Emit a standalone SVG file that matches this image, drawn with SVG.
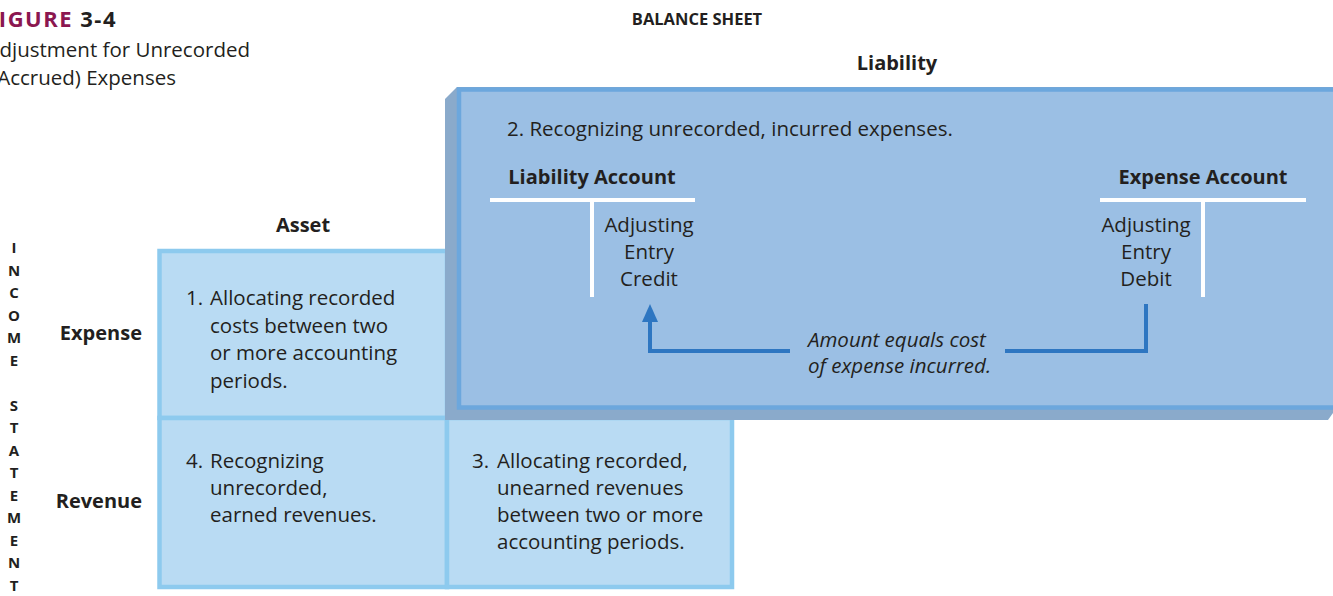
<svg xmlns="http://www.w3.org/2000/svg" width="1333" height="596" viewBox="0 0 1333 596">
<defs>
<style>
text{font-family:"Open Sans","Noto Sans","Liberation Sans",sans-serif;fill:#231f20;}
.b{font-weight:700;}
.t{font-size:20.5px;}
.h{font-size:20px;font-weight:700;}
.it{font-style:italic;font-size:20.5px;}
.v{font-size:15px;font-weight:700;text-anchor:middle;}
.cell{fill:#b9dbf3;stroke:#8dcaee;stroke-width:4.5;}
.tline{stroke:#ffffff;stroke-width:4;fill:none;}
.conn{stroke:#2e76c1;stroke-width:4;fill:none;}
</style>
<marker id="ah" markerUnits="userSpaceOnUse" markerWidth="18" markerHeight="16" viewBox="0 0 18 16" refX="0" refY="8" orient="auto">
<path d="M0,0 L18,8 L0,16 z" fill="#2e76c1"/>
</marker>
</defs>
<rect width="1333" height="596" fill="#ffffff"/>

<g id="figure-title">
<text x="117" y="27" text-anchor="end" class="b" font-size="22" letter-spacing="1.5"><tspan fill="#8b1750">FIGURE</tspan> 3-4</text>
<text x="250" y="57" text-anchor="end" class="t">Adjustment for Unrecorded</text>
<text x="176" y="85" text-anchor="end" class="t">(Accrued) Expenses</text>
</g>

<g id="balance-sheet-label">
<text x="697" y="25" text-anchor="middle" class="b" font-size="16.5">BALANCE SHEET</text>
</g>

<g id="income-statement-label">
<text class="v" x="14" y="253">I</text>
<text class="v" x="14" y="275.5">N</text>
<text class="v" x="14" y="298">C</text>
<text class="v" x="14" y="320.5">O</text>
<text class="v" x="14" y="343">M</text>
<text class="v" x="14" y="365.5">E</text>
<text class="v" x="14" y="410.5">S</text>
<text class="v" x="14" y="433">T</text>
<text class="v" x="14" y="455.5">A</text>
<text class="v" x="14" y="478">T</text>
<text class="v" x="14" y="500.5">E</text>
<text class="v" x="14" y="523">M</text>
<text class="v" x="14" y="545.5">E</text>
<text class="v" x="14" y="568">N</text>
<text class="v" x="14" y="590.5">T</text>
</g>

<g id="row-col-labels">
<text x="303" y="232" text-anchor="middle" class="h">Asset</text>
<text x="142" y="340" text-anchor="end" class="h">Expense</text>
<text x="142" y="508" text-anchor="end" class="h">Revenue</text>
<text x="897" y="70" text-anchor="middle" class="h">Liability</text>
</g>

<g id="cell-1">
<rect class="cell" x="159.5" y="251" width="287.5" height="167"/>
<text class="t" x="186" y="305">1.</text>
<text class="t" x="210" y="305">Allocating recorded</text>
<text class="t" x="210" y="332.5">costs between two</text>
<text class="t" x="210" y="360">or more accounting</text>
<text class="t" x="210" y="387.5">periods.</text>
</g>

<g id="cell-4">
<rect class="cell" x="159.5" y="418" width="287.5" height="169"/>
<text class="t" x="186" y="468">4.</text>
<text class="t" x="210" y="468">Recognizing</text>
<text class="t" x="210" y="495">unrecorded,</text>
<text class="t" x="210" y="522">earned revenues.</text>
</g>

<g id="cell-3">
<rect class="cell" x="447" y="418" width="285" height="169"/>
<text class="t" x="472" y="468">3.</text>
<text class="t" x="497" y="468">Allocating recorded,</text>
<text class="t" x="497" y="495">unearned revenues</text>
<text class="t" x="497" y="522">between two or more</text>
<text class="t" x="497" y="548.5">accounting periods.</text>
</g>

<g id="liability-box">
<polygon points="445,99 457,87 1333,87 1333,413 1328,420 445,420" fill="#8aaacb"/>
<rect x="459" y="89.5" width="900" height="318" fill="#9bbfe4" stroke="#6ca7dd" stroke-width="4.5"/>
<text class="t" x="507" y="136" font-size="20">2. Recognizing unrecorded, incurred expenses.</text>
</g>

<g id="liability-account">
<text class="h" x="592" y="184" text-anchor="middle">Liability Account</text>
<path class="tline" d="M490,200 H695 M592,200 V297"/>
<text class="t" x="649" y="232" text-anchor="middle">Adjusting</text>
<text class="t" x="649" y="259" text-anchor="middle">Entry</text>
<text class="t" x="649" y="286" text-anchor="middle">Credit</text>
</g>

<g id="expense-account">
<text class="h" x="1203" y="184" text-anchor="middle">Expense Account</text>
<path class="tline" d="M1100,200 H1306 M1203,200 V297"/>
<text class="t" x="1146" y="232" text-anchor="middle">Adjusting</text>
<text class="t" x="1146" y="259" text-anchor="middle">Entry</text>
<text class="t" x="1146" y="286" text-anchor="middle">Debit</text>
</g>

<g id="connectors">
<path class="conn" d="M1146,304 V351 H1005"/>
<path class="conn" d="M790,351 H650 V322" marker-end="url(#ah)"/>
<text class="it" x="808" y="347">Amount equals cost</text>
<text class="it" x="808" y="373">of expense incurred.</text>
</g>
</svg>
